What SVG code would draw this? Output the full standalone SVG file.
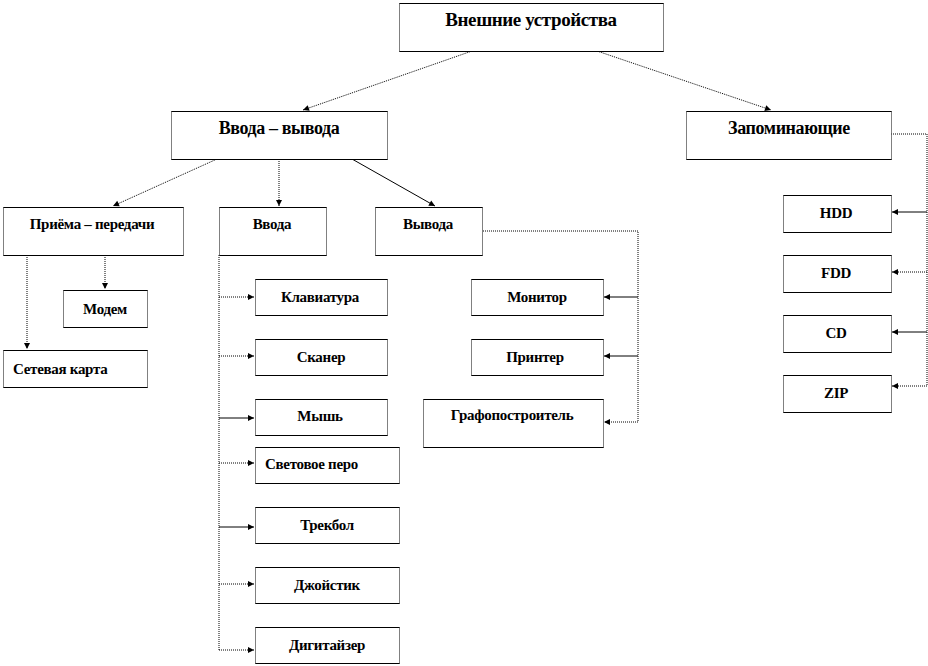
<svg xmlns="http://www.w3.org/2000/svg" width="928" height="666" viewBox="0 0 928 666">
<style>
.box{fill:#fff;stroke:#000;stroke-width:1;stroke-dasharray:1 1}
.tb{fill:none;stroke:#000;stroke-width:1.2}
.t{font-weight:bold;fill:#000;font-size:15px;letter-spacing:-0.3px}
.c{text-anchor:middle}
.big{font-size:19px;letter-spacing:-0.4px}
.mid{font-size:18px;letter-spacing:-0.4px}
.sl{fill:none;stroke:#000;stroke-width:1}
.dl{fill:none;stroke:#000;stroke-width:1;stroke-dasharray:1 1}
</style>
<defs>
<marker id="ah" markerWidth="8" markerHeight="8" refX="7" refY="4" orient="auto" markerUnits="userSpaceOnUse">
<path d="M1,1 L7,4 L1,7 Z" fill="#000"/>
</marker>
</defs>
<rect width="928" height="666" fill="#fff"/>

<g id="connectors">
<path class="dl" d="M472,51 L303,110" marker-end="url(#ah)"/>
<path class="dl" d="M597,51 L771,110" marker-end="url(#ah)"/>
<path class="dl" d="M217,159 L113,206" marker-end="url(#ah)"/>
<path class="dl" d="M279,159 L279,206" marker-end="url(#ah)"/>
<path class="sl" d="M352,159 L435,206" marker-end="url(#ah)"/>
<path class="dl" d="M27,255 L27,349" marker-end="url(#ah)"/>
<path class="dl" d="M105,255 L105,289" marker-end="url(#ah)"/>
<path class="dl" d="M219,255 L219,650"/>
<path class="dl" d="M219,297 L254,297" marker-end="url(#ah)"/>
<path class="dl" d="M219,356 L254,356" marker-end="url(#ah)"/>
<path class="sl" d="M219,418 L254,418" marker-end="url(#ah)"/>
<path class="dl" d="M219,463 L254,463" marker-end="url(#ah)"/>
<path class="sl" d="M219,527 L254,527" marker-end="url(#ah)"/>
<path class="dl" d="M219,584 L254,584" marker-end="url(#ah)"/>
<path class="dl" d="M219,650 L254,650" marker-end="url(#ah)"/>
<path class="dl" d="M483,231 L638,231 L638,422"/>
<path class="sl" d="M638,297 L604,297" marker-end="url(#ah)"/>
<path class="sl" d="M638,356 L604,356" marker-end="url(#ah)"/>
<path class="dl" d="M638,422 L604,422" marker-end="url(#ah)"/>
<path class="dl" d="M891,134 L927,134 L927,386"/>
<path class="sl" d="M927,212 L892,212" marker-end="url(#ah)"/>
<path class="dl" d="M927,272 L892,272" marker-end="url(#ah)"/>
<path class="sl" d="M927,332 L892,332" marker-end="url(#ah)"/>
<path class="dl" d="M927,386 L892,386" marker-end="url(#ah)"/>
</g>

<g font-family="Liberation Serif, Times New Roman, DejaVu Serif, serif">
<g id="n-vneshnie">
<rect class="box" x="399.5" y="3.5" width="264" height="48"/>
<path class="tb" d="M399.5,3.5 h264 M399.5,51.5 h264"/>
<text class="t c big" x="531" y="26">Внешние устройства</text>
</g>
<g id="n-vvoda-vyvoda">
<rect class="box" x="171.5" y="111.5" width="216" height="48"/>
<path class="tb" d="M171.5,111.5 h216 M171.5,159.5 h216"/>
<text class="t c mid" x="279" y="134">Ввода – вывода</text>
</g>
<g id="n-zapominayushchie">
<rect class="box" x="686.5" y="111.5" width="205" height="48"/>
<path class="tb" d="M686.5,111.5 h205 M686.5,159.5 h205"/>
<text class="t c mid" x="789" y="134">Запоминающие</text>
</g>
<g id="n-priema">
<rect class="box" x="3.5" y="207.5" width="180" height="48"/>
<path class="tb" d="M3.5,207.5 h180 M3.5,255.5 h180"/>
<text class="t c" x="92" y="229">Приёма – передачи</text>
</g>
<g id="n-vvoda">
<rect class="box" x="219.5" y="207.5" width="107" height="48"/>
<path class="tb" d="M219.5,207.5 h107 M219.5,255.5 h107"/>
<text class="t c" x="272" y="229">Ввода</text>
</g>
<g id="n-vyvoda">
<rect class="box" x="375.5" y="207.5" width="107" height="48"/>
<path class="tb" d="M375.5,207.5 h107 M375.5,255.5 h107"/>
<text class="t c" x="428" y="229">Вывода</text>
</g>
<g id="n-modem">
<rect class="box" x="63.5" y="290.5" width="84" height="37"/>
<path class="tb" d="M63.5,290.5 h84 M63.5,327.5 h84"/>
<text class="t c" x="105" y="314">Модем</text>
</g>
<g id="n-setevaya">
<rect class="box" x="3.5" y="350.5" width="144" height="37"/>
<path class="tb" d="M3.5,350.5 h144 M3.5,387.5 h144"/>
<text class="t" x="13" y="374">Сетевая карта</text>
</g>
<g id="n-klaviatura">
<rect class="box" x="255.5" y="279.5" width="132" height="36"/>
<path class="tb" d="M255.5,279.5 h132 M255.5,315.5 h132"/>
<text class="t c" x="320" y="302">Клавиатура</text>
</g>
<g id="n-skaner">
<rect class="box" x="255.5" y="339.5" width="132" height="36"/>
<path class="tb" d="M255.5,339.5 h132 M255.5,375.5 h132"/>
<text class="t c" x="321" y="362">Сканер</text>
</g>
<g id="n-mysh">
<rect class="box" x="255.5" y="399.5" width="132" height="36"/>
<path class="tb" d="M255.5,399.5 h132 M255.5,435.5 h132"/>
<text class="t c" x="320" y="421">Мышь</text>
</g>
<g id="n-svetovoe">
<rect class="box" x="255.5" y="447.5" width="144" height="36"/>
<path class="tb" d="M255.5,447.5 h144 M255.5,483.5 h144"/>
<text class="t" x="265" y="469">Световое перо</text>
</g>
<g id="n-trekbol">
<rect class="box" x="255.5" y="507.5" width="144" height="36"/>
<path class="tb" d="M255.5,507.5 h144 M255.5,543.5 h144"/>
<text class="t c" x="327" y="530">Трекбол</text>
</g>
<g id="n-dzhoystik">
<rect class="box" x="255.5" y="567.5" width="144" height="36"/>
<path class="tb" d="M255.5,567.5 h144 M255.5,603.5 h144"/>
<text class="t c" x="327" y="590">Джойстик</text>
</g>
<g id="n-digitayzer">
<rect class="box" x="255.5" y="627.5" width="144" height="36"/>
<path class="tb" d="M255.5,627.5 h144 M255.5,663.5 h144"/>
<text class="t c" x="327" y="650">Дигитайзер</text>
</g>
<g id="n-monitor">
<rect class="box" x="471.5" y="279.5" width="132" height="36"/>
<path class="tb" d="M471.5,279.5 h132 M471.5,315.5 h132"/>
<text class="t c" x="537" y="302">Монитор</text>
</g>
<g id="n-printer">
<rect class="box" x="471.5" y="339.5" width="132" height="36"/>
<path class="tb" d="M471.5,339.5 h132 M471.5,375.5 h132"/>
<text class="t c" x="535" y="362">Принтер</text>
</g>
<g id="n-grafopostroitel">
<rect class="box" x="423.5" y="399.5" width="180" height="48"/>
<path class="tb" d="M423.5,399.5 h180 M423.5,447.5 h180"/>
<text class="t c" x="512" y="420">Графопостроитель</text>
</g>
<g id="n-hdd">
<rect class="box" x="783.5" y="195.5" width="108" height="37"/>
<path class="tb" d="M783.5,195.5 h108 M783.5,232.5 h108"/>
<text class="t c" x="836" y="218">HDD</text>
</g>
<g id="n-fdd">
<rect class="box" x="783.5" y="255.5" width="108" height="37"/>
<path class="tb" d="M783.5,255.5 h108 M783.5,292.5 h108"/>
<text class="t c" x="836" y="278">FDD</text>
</g>
<g id="n-cd">
<rect class="box" x="783.5" y="315.5" width="108" height="37"/>
<path class="tb" d="M783.5,315.5 h108 M783.5,352.5 h108"/>
<text class="t c" x="836" y="338">CD</text>
</g>
<g id="n-zip">
<rect class="box" x="783.5" y="375.5" width="108" height="37"/>
<path class="tb" d="M783.5,375.5 h108 M783.5,412.5 h108"/>
<text class="t c" x="836" y="398">ZIP</text>
</g>
</g>
</svg>
